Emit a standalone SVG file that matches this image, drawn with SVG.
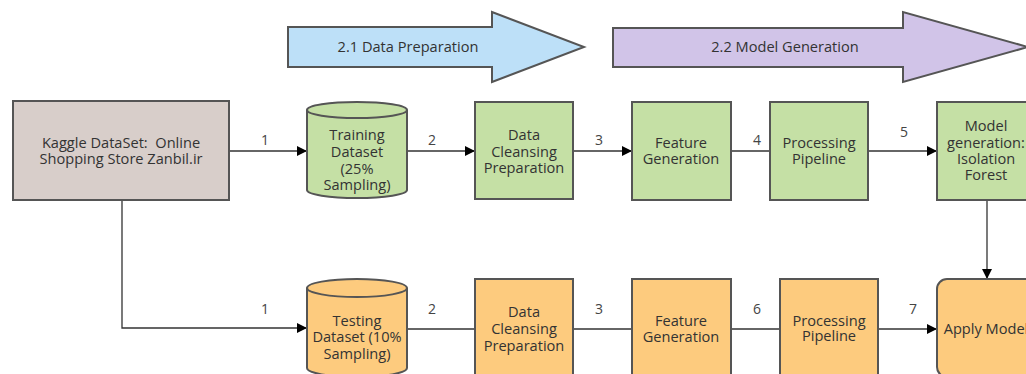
<svg xmlns="http://www.w3.org/2000/svg" width="1026" height="374" viewBox="0 0 1026 374">
<defs>
<marker id="ah" viewBox="0 0 10 10" refX="10" refY="5" markerWidth="10" markerHeight="10" markerUnits="userSpaceOnUse" orient="auto">
<path d="M0,0 L10,5 L0,10 z" fill="#000"/>
</marker>
<style>
text{font-family:"Open Sans","Noto Sans","DejaVu Sans",sans-serif;font-size:14.6px;fill:#333;text-anchor:middle;white-space:pre}
.lbl{fill:#444;font-size:14px}
.box{stroke:#555;stroke-width:2}
.g{fill:#c5e0a5}
.o{fill:#fdcb7e}
.con{stroke:#333;stroke-width:1.3;fill:none}
</style>
</defs>
<rect width="1026" height="374" fill="#fff"/>
<g id="phase1">
<polygon class="box" fill="#bde0f8" points="288,27 492,27 492,12 584,47 492,82 492,67 288,67"/>
<text x="408" y="52">2.1 Data Preparation</text>
</g>
<g id="phase2">
<polygon class="box" fill="#d1c4e8" points="613,28 903,28 903,12 1028,47 903,82 903,67 613,67"/>
<text x="785" y="52">2.2 Model Generation</text>
</g>
<g id="connectors">
<line class="con" x1="229" y1="151" x2="307" y2="151" marker-end="url(#ah)"/>
<line class="con" x1="407" y1="151" x2="475" y2="151" marker-end="url(#ah)"/>
<line class="con" x1="573" y1="151" x2="632" y2="151" marker-end="url(#ah)"/>
<line class="con" x1="731" y1="151" x2="770" y2="151"/>
<line class="con" x1="868" y1="151" x2="937" y2="151" marker-end="url(#ah)"/>
<line class="con" x1="987" y1="200" x2="987" y2="279" marker-end="url(#ah)"/>
<polyline class="con" points="122,200 122,328 307,328" marker-end="url(#ah)"/>
<line class="con" x1="407" y1="329" x2="475" y2="329"/>
<line class="con" x1="573" y1="329" x2="632" y2="329"/>
<line class="con" x1="731" y1="329" x2="780" y2="329"/>
<line class="con" x1="878" y1="329" x2="937" y2="329" marker-end="url(#ah)"/>
<text class="lbl" x="265" y="145">1</text>
<text class="lbl" x="432" y="145">2</text>
<text class="lbl" x="599" y="145">3</text>
<text class="lbl" x="757" y="145">4</text>
<text class="lbl" x="904" y="137">5</text>
<text class="lbl" x="265" y="314">1</text>
<text class="lbl" x="432" y="314">2</text>
<text class="lbl" x="599" y="314">3</text>
<text class="lbl" x="757" y="314">6</text>
<text class="lbl" x="913" y="314">7</text>
</g>
<g id="kaggle">
<rect class="box" x="13" y="101" width="216" height="99" fill="#d8ceca"/>
<text x="121" y="148" xml:space="preserve">Kaggle DataSet:  Online</text>
<text x="121" y="164">Shopping Store Zanbil.ir</text>
</g>
<g id="training">
<path class="box g" d="M307,110 A50,8 0 0 1 407,110 L407,190 A50,8 0 0 1 307,190 Z"/>
<path class="box" fill="none" d="M307,110 A50,8 0 0 0 407,110"/>
<text x="357" y="140">Training</text>
<text x="357" y="157">Dataset</text>
<text x="357" y="174">(25%</text>
<text x="357" y="190">Sampling)</text>
</g>
<g id="cleanse1">
<rect class="box g" x="475" y="102" width="98" height="97"/>
<text x="524" y="140">Data</text>
<text x="524" y="157">Cleansing</text>
<text x="524" y="173">Preparation</text>
</g>
<g id="feature1">
<rect class="box g" x="632" y="102" width="99" height="98"/>
<text x="681" y="148">Feature</text>
<text x="681" y="164">Generation</text>
</g>
<g id="pipeline1">
<rect class="box g" x="770" y="102" width="98" height="98"/>
<text x="819" y="148">Processing</text>
<text x="819" y="164">Pipeline</text>
</g>
<g id="model">
<rect class="box g" x="937" y="102" width="98" height="98"/>
<text x="986" y="131">Model</text>
<text x="986" y="148">generation:</text>
<text x="986" y="164">Isolation</text>
<text x="986" y="180">Forest</text>
</g>
<g id="testing">
<path class="box o" d="M307,288 A50,9 0 0 1 407,288 L407,368 A50,9 0 0 1 307,368 Z"/>
<path class="box" fill="none" d="M307,288 A50,9 0 0 0 407,288"/>
<text x="357" y="326">Testing</text>
<text x="357" y="342">Dataset (10%</text>
<text x="357" y="359">Sampling)</text>
</g>
<g id="cleanse2">
<rect class="box o" x="475" y="279" width="98" height="98"/>
<text x="524" y="317">Data</text>
<text x="524" y="334">Cleansing</text>
<text x="524" y="351">Preparation</text>
</g>
<g id="feature2">
<rect class="box o" x="632" y="279" width="99" height="98"/>
<text x="681" y="326">Feature</text>
<text x="681" y="342">Generation</text>
</g>
<g id="pipeline2">
<rect class="box o" x="780" y="279" width="98" height="98"/>
<text x="829" y="326">Processing</text>
<text x="829" y="341">Pipeline</text>
</g>
<g id="apply">
<rect class="box o" x="937" y="279" width="98" height="98" rx="10"/>
<text x="986" y="334">Apply Model</text>
</g>
</svg>
